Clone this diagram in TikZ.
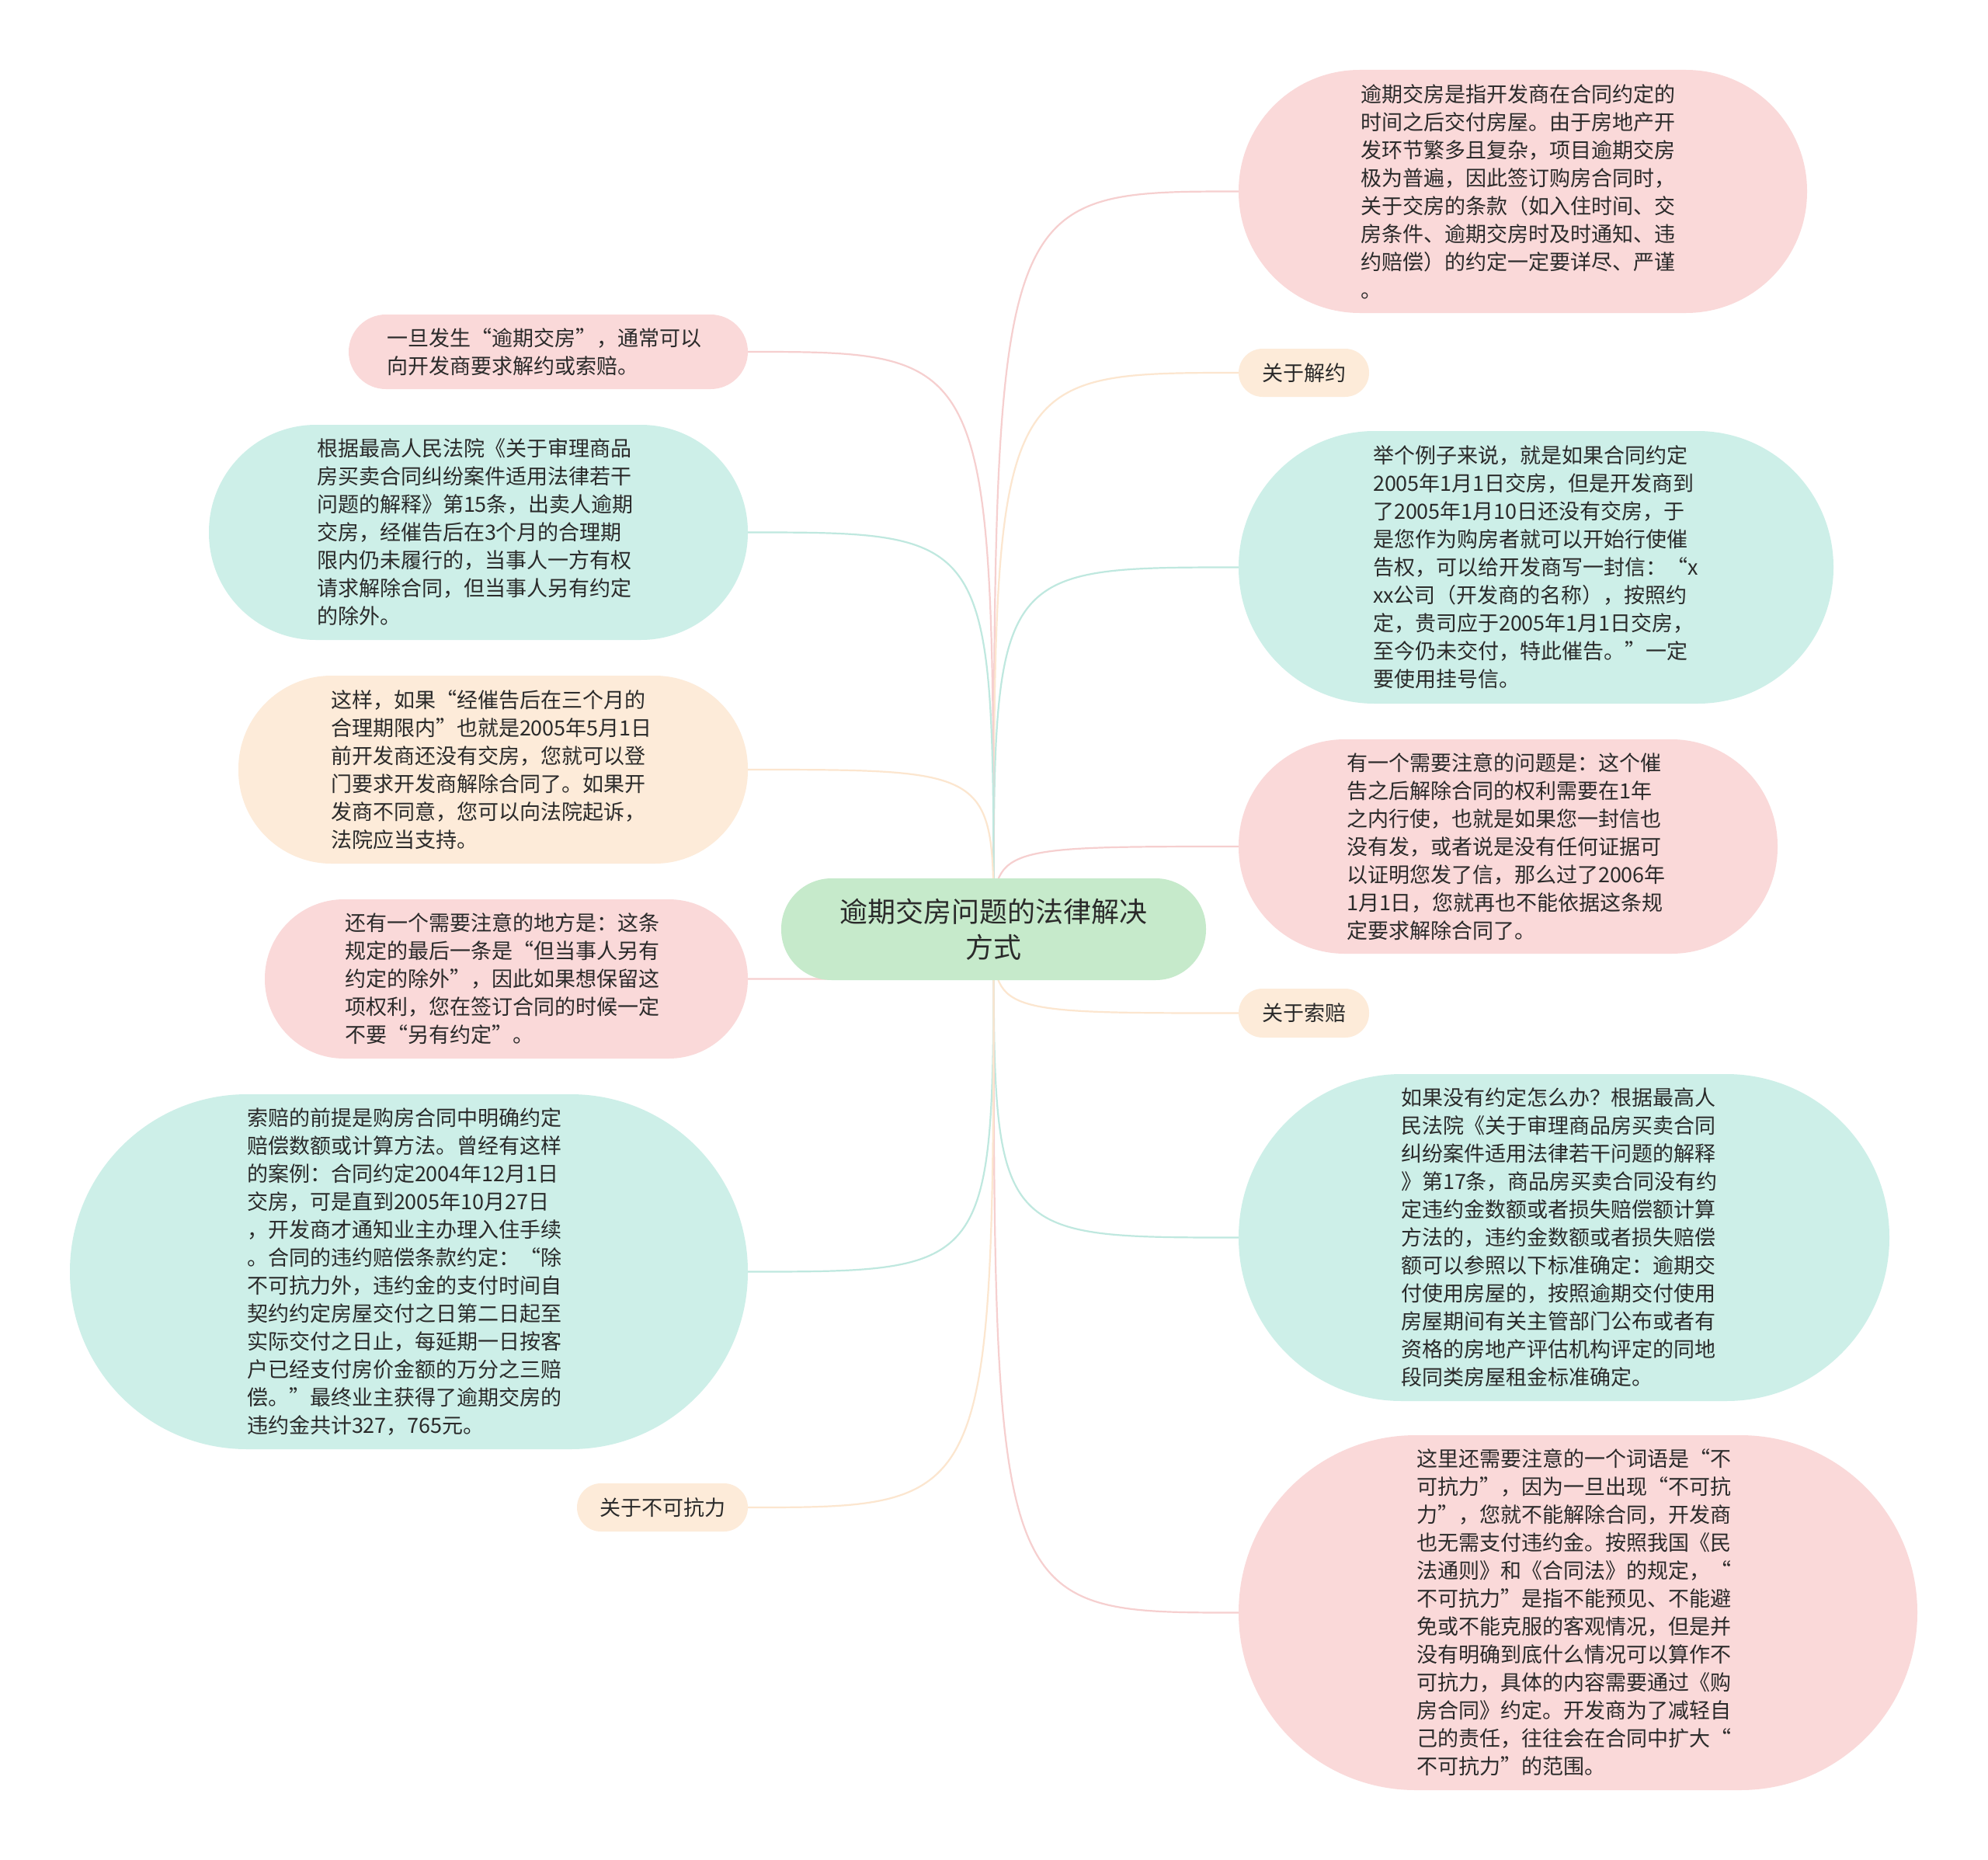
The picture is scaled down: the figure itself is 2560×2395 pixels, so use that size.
\documentclass[tikz,border=0pt]{standalone}
\usepackage{fontspec}
\setmainfont{Noto Sans CJK SC}
\definecolor{pinkf}{HTML}{FAD9D9}
\definecolor{tealf}{HTML}{CDEFE8}
\definecolor{peachf}{HTML}{FDEBD9}
\definecolor{greenf}{HTML}{C6EACB}
\definecolor{pinkl}{HTML}{F6CFCF}
\definecolor{teall}{HTML}{BFE8DF}
\definecolor{peachl}{HTML}{FCE6CF}
\definecolor{txt}{HTML}{2A2A2A}
\pgfdeclarelayer{bg}
\pgfsetlayers{bg,main}
\tikzset{
  bub/.style={rectangle, inner sep=0pt, outer sep=0pt, text=txt, font=\fontsize{27}{36}\selectfont, align=left},
  tag/.style={rectangle, inner sep=0pt, outer sep=0pt, text=txt, font=\fontsize{27}{36}\selectfont, align=center, fill=peachf},
  pk/.style={fill=pinkf},
  tl/.style={fill=tealf},
  pc/.style={fill=peachf},
  conn/.style={line width=2.2pt},
}
\begin{document}
\begin{tikzpicture}[x=1pt,y=-1pt]
\useasboundingbox (0,0) rectangle (2560,2395);

% center
\node[rectangle, inner sep=0pt, outer sep=0pt, fill=greenf, text=txt, font=\fontsize{36}{46}\selectfont, align=center, minimum width=547pt, minimum height=131pt, rounded corners=65pt] (c) at (1279.5,1196.5) {逾期交房问题的法律解决\\方式};

% right side
\node[bub, pk, minimum width=732pt, minimum height=313pt, rounded corners=156pt, text width=418pt] (r1) at (1961,246.5) {逾期交房是指开发商在合同约定的\\时间之后交付房屋。由于房地产开\\发环节繁多且复杂，项目逾期交房\\极为普遍，因此签订购房合同时，\\关于交房的条款（如入住时间、交\\房条件、逾期交房时及时通知、违\\约赔偿）的约定一定要详尽、严谨\\。};

\node[tag, minimum width=168pt, minimum height=62pt, rounded corners=31pt] (r2) at (1679,480) {关于解约};

\node[bub, tl, minimum width=766pt, minimum height=351pt, rounded corners=175pt, text width=420pt] (r3) at (1978,730.5) {举个例子来说，就是如果合同约定\\2005年1月1日交房，但是开发商到\\了2005年1月10日还没有交房，于\\是您作为购房者就可以开始行使催\\告权，可以给开发商写一封信：“x\\xx公司（开发商的名称），按照约\\定，贵司应于2005年1月1日交房，\\至今仍未交付，特此催告。”一定\\要使用挂号信。};

\node[bub, pk, minimum width=694pt, minimum height=276pt, rounded corners=137pt, text width=416pt] (r4) at (1942,1090) {有一个需要注意的问题是：这个催\\告之后解除合同的权利需要在1年\\之内行使，也就是如果您一封信也\\没有发，或者说是没有任何证据可\\以证明您发了信，那么过了2006年\\1月1日，您就再也不能依据这条规\\定要求解除合同了。};

\node[tag, minimum width=168pt, minimum height=63pt, rounded corners=31pt] (r5) at (1679,1304.5) {关于索赔};

\node[bub, tl, minimum width=838pt, minimum height=421pt, rounded corners=210pt, text width=420pt] (r6) at (2014,1593.5) {如果没有约定怎么办？根据最高人\\民法院《关于审理商品房买卖合同\\纠纷案件适用法律若干问题的解释\\》第17条，商品房买卖合同没有约\\定违约金数额或者损失赔偿额计算\\方法的，违约金数额或者损失赔偿\\额可以参照以下标准确定：逾期交\\付使用房屋的，按照逾期交付使用\\房屋期间有关主管部门公布或者有\\资格的房地产评估机构评定的同地\\段同类房屋租金标准确定。};

\node[bub, pk, minimum width=874pt, minimum height=457pt, rounded corners=228pt, text width=416pt] (r7) at (2032,2076.5) {这里还需要注意的一个词语是“不\\可抗力”，因为一旦出现“不可抗\\力”，您就不能解除合同，开发商\\也无需支付违约金。按照我国《民\\法通则》和《合同法》的规定，“\\不可抗力”是指不能预见、不能避\\免或不能克服的客观情况，但是并\\没有明确到底什么情况可以算作不\\可抗力，具体的内容需要通过《购\\房合同》约定。开发商为了减轻自\\己的责任，往往会在合同中扩大“\\不可抗力”的范围。};

% left side
\node[bub, pk, minimum width=514pt, minimum height=96pt, rounded corners=48pt, text width=416pt] (l1) at (706,453) {一旦发生“逾期交房”，通常可以\\向开发商要求解约或索赔。};

\node[bub, tl, minimum width=694pt, minimum height=277pt, rounded corners=138pt, text width=416pt] (l2) at (616,685.5) {根据最高人民法院《关于审理商品\\房买卖合同纠纷案件适用法律若干\\问题的解释》第15条，出卖人逾期\\交房，经催告后在3个月的合理期\\限内仍未履行的，当事人一方有权\\请求解除合同，但当事人另有约定\\的除外。};

\node[bub, pc, minimum width=656pt, minimum height=242pt, rounded corners=120pt, text width=418pt] (l3) at (635,991) {这样，如果“经催告后在三个月的\\合理期限内”也就是2005年5月1日\\前开发商还没有交房，您就可以登\\门要求开发商解除合同了。如果开\\发商不同意，您可以向法院起诉，\\法院应当支持。};

\node[bub, pk, minimum width=622pt, minimum height=205pt, rounded corners=102pt, text width=416pt] (l4) at (652,1260.5) {还有一个需要注意的地方是：这条\\规定的最后一条是“但当事人另有\\约定的除外”，因此如果想保留这\\项权利，您在签订合同的时候一定\\不要“另有约定”。};

\node[bub, tl, minimum width=873pt, minimum height=457pt, rounded corners=228pt, text width=417pt] (l5) at (526.5,1637.5) {索赔的前提是购房合同中明确约定\\赔偿数额或计算方法。曾经有这样\\的案例：合同约定2004年12月1日\\交房，可是直到2005年10月27日\\，开发商才通知业主办理入住手续\\。合同的违约赔偿条款约定：“除\\不可抗力外，违约金的支付时间自\\契约约定房屋交付之日第二日起至\\实际交付之日止，每延期一日按客\\户已经支付房价金额的万分之三赔\\偿。”最终业主获得了逾期交房的\\违约金共计327，765元。};

\node[tag, minimum width=220pt, minimum height=62pt, rounded corners=31pt] (l6) at (853,1941) {关于不可抗力};

\begin{pgfonlayer}{bg}
\fill[white] (0,0) rectangle (2560,2395);
\draw[conn, pinkl]  (c.center) .. controls (c.center |- r1.west) .. (r1.west);
\draw[conn, peachl] (c.center) .. controls (c.center |- r2.west) .. (r2.west);
\draw[conn, teall]  (c.center) .. controls (c.center |- r3.west) .. (r3.west);
\draw[conn, pinkl]  (c.center) .. controls (c.center |- r4.west) .. (r4.west);
\draw[conn, peachl] (c.center) .. controls (c.center |- r5.west) .. (r5.west);
\draw[conn, teall]  (c.center) .. controls (c.center |- r6.west) .. (r6.west);
\draw[conn, pinkl]  (c.center) .. controls (c.center |- r7.west) .. (r7.west);
\draw[conn, pinkl]  (c.center) .. controls (c.center |- l1.east) .. (l1.east);
\draw[conn, teall]  (c.center) .. controls (c.center |- l2.east) .. (l2.east);
\draw[conn, peachl] (c.center) .. controls (c.center |- l3.east) .. (l3.east);
\draw[conn, pinkl]  (c.center) .. controls (c.center |- l4.east) .. (l4.east);
\draw[conn, teall]  (c.center) .. controls (c.center |- l5.east) .. (l5.east);
\draw[conn, peachl] (c.center) .. controls (c.center |- l6.east) .. (l6.east);
\end{pgfonlayer}
\end{tikzpicture}
\end{document}
